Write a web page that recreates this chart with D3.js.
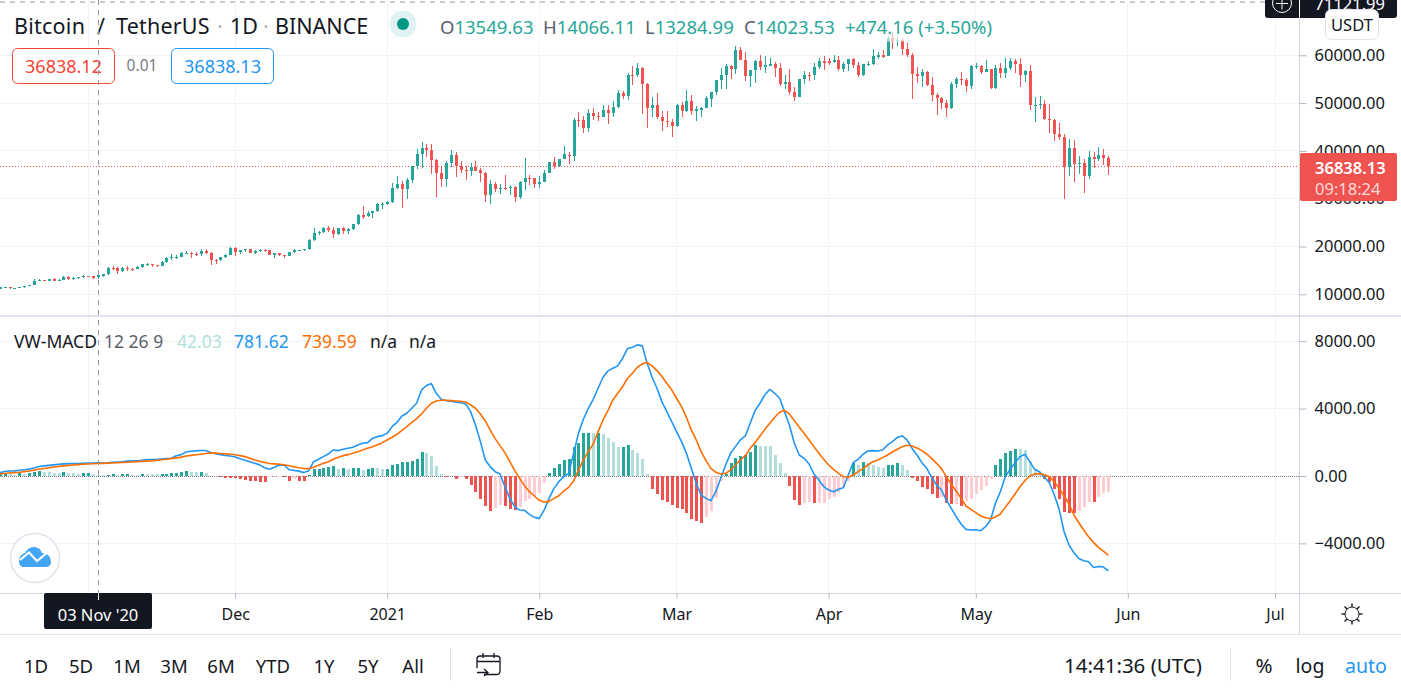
<!DOCTYPE html>
<html>
<head>
<meta charset="utf-8">
<title>Bitcoin / TetherUS 1D</title>
<style>
  body { margin: 0; background: #fff; overflow: hidden; }
  svg { display: block; }
  text { font-family: "Noto Sans", sans-serif; fill: #131722; }
  .axis path { display: none; }
  .axis line { stroke: #b2b5be; }
  .axis text { font-family: "Noto Sans", sans-serif; font-size: 16.5px; fill: #131722; }
</style>
</head>
<body>
<svg id="chart" width="1401" height="691"></svg>
<script src="https://d3js.org/d3.v7.min.js"></script>
<script>
// daily candles, 14 Oct 2020 to 28 May 2021
const firstDay = Date.UTC(2020, 9, 14);
const opens = [
  11425,11429,11495,11322,11358,11483,11742,11916,12823,12965,12931,13108,13031,13067,13636,13266,13455,13560,
  13803,13758,13549,14023,14144,15590,15579,14818,15475,15328,15297,15701,16276,16317,16069,15957,16713,17659,17776,17802,18655,18703,18414,18365,19104,18730,17149,17139,17719,18185,
  19695,18764,19204,19421,18650,19147,19359,19166,18324,18541,18254,18036,18808,19175,19273,19426,21335,22797,23107,23821,23455,22719,23810,23232,23729,24712,26493,26281,27079,27385,28875,
  28923,29331,32176,33000,31989,33949,36769,39432,40586,40088,38150,35410,34049,37371,39145,36737,35994,35824,36622,35901,35468,30851,33005,32064,32277,32245,32520,30400,33403,34295,34270,
  33092,33517,35472,37620,36936,38289,39246,38886,46469,46420,44807,47968,47298,47156,48580,47911,49133,52117,51552,55906,55841,57412,54087,48891,49676,47073,46276,46103,
  45134,49595,48436,50349,48374,48747,48882,50959,52375,54874,55851,57774,57221,61188,58976,55605,56900,58912,57641,58030,58100,57351,54083,54340,52303,51293,55025,55817,55777,57635,58739,
  58720,58720,58950,57051,58202,59130,57990,55950,58077,58142,59769,59964,59835,63575,62959,63159,61334,60006,56150,55633,56425,53787,51690,51110,50047,49004,54030,55036,54824,53555,
  57697,57797,56578,57169,53199,57436,56393,57315,58866,58240,55816,56670,49537,49671,49844,46762,46426,43538,42849,36671,40525,37253,37449,34655,38796,38324,39241,38530
];
const highs = [
  11550,11617,11540,11402,11490,11800,12045,13217,13185,13027,13145,13350,13250,13789,13859,13650,13699,14100,
  13895,13830,14066,14259,15750,15965,15765,15650,15840,15460,15965,16340,16480,16340,16180,16880,17858,18476,18179,18815,18965,18750,18766,19418,19484,18915,17457,17880,18360,19863,
  19888,19308,19564,19500,19180,19420,19420,19294,18639,18557,18292,18948,19411,19349,19570,21560,23800,23285,24171,24295,24102,23837,24100,23794,24789,26867,28422,27500,27410,29020,29300,
  29600,33300,34778,33600,34360,36939,40365,41950,41380,41350,38264,36628,37850,40100,39747,37950,36852,37405,37850,36415,35552,33826,33456,33071,34875,32921,32557,33783,38531,34934,34288,
  34717,35984,37662,38708,38310,40955,39700,46794,48200,47310,48678,48985,48150,49707,49700,50526,52640,52550,56368,57700,58352,57533,54183,51374,52041,48424,48300,46638,
  49790,50200,52640,51773,49448,49200,51450,52402,54900,57387,58150,58058,61844,61700,60633,56938,58981,60100,59880,59500,58600,58430,55830,57200,53287,55073,56640,56559,58405,59368,59800,
  59490,60036,59800,58500,59272,59470,58650,58153,58869,61300,60687,61200,64000,64854,63800,63520,62506,60499,57600,57100,56757,55410,52200,51200,50591,54356,55466,56428,55200,57963,
  58458,57950,58973,57200,57937,58360,59500,59500,59300,59500,56862,58000,51367,51560,50700,49795,46643,45808,43546,42451,42200,38856,38270,39920,39850,40900,40411,38879
];
const lows = [
  11270,11293,11200,11304,11335,11411,11680,11886,12720,12721,12885,12888,12779,13050,12888,12920,13125,13419,
  13620,13195,13284,13525,14093,15150,14344,14702,14805,14900,15280,15440,15952,15712,15670,15875,16560,17214,17335,17740,18400,17610,18000,18018,18500,16188,16438,16865,17517,18180,
  18001,18330,18922,18570,18500,18857,18902,18200,17650,17911,17572,18020,18711,19000,19050,19287,21230,22350,22750,23060,21815,22353,22600,22703,23433,24500,25700,26101,25880,27320,27850,
  28624,29000,31962,28130,29900,33288,36300,36500,38720,35111,30420,32531,32380,36701,34538,35357,33850,34850,35844,33400,29241,28850,31390,30900,31910,30837,29241,29842,31915,32825,32270,
  32296,33418,35362,36161,36570,38215,37351,37988,45000,43727,43994,46400,46202,47014,45570,47003,48946,50880,50710,53863,55477,47622,44892,47003,46700,44187,45000,43000,
  44950,47047,48100,47500,46300,47070,48882,49274,51789,53005,53025,55013,56078,58966,54600,53271,54123,56900,56270,57820,55450,53650,53000,51700,50427,51214,53966,54677,54900,57071,56873,
  57935,58450,56800,56450,56800,57300,55473,55700,57670,57872,59247,59369,59800,61301,62020,60000,59580,50931,54187,53329,53600,50500,47500,48738,47000,48754,53222,53813,52330,53013,
  57050,56035,56488,53000,52900,55200,55300,56900,56235,53400,54370,48600,46000,48856,46555,43825,42102,42250,30000,34850,33488,35200,31111,34031,36419,37800,37134,35000
];
const closes = [
  11429,11495,11322,11358,11483,11742,11916,12823,12965,12931,13108,13031,13067,13636,13266,13455,13560,13803,
  13758,13549,14023,14144,15590,15579,14818,15475,15328,15297,15701,16276,16317,16069,15957,16713,17659,17776,17802,18655,18703,18414,18365,19104,18730,17149,17139,17719,18185,19695,
  18764,19204,19421,18650,19147,19359,19166,18324,18541,18254,18036,18808,19175,19273,19426,21335,22797,23107,23821,23455,22719,23810,23232,23729,24712,26493,26281,27079,27385,28875,28923,
  29331,32178,33000,31988,33949,36769,39432,40582,40088,38150,35404,34051,37371,39144,36742,35994,35828,36631,35891,35468,30850,33005,32067,32277,32243,32541,30419,33403,34316,34269,33114,
  33526,35466,37618,36936,38290,39256,38903,46374,46420,44807,47969,47287,47153,48577,47911,49133,52119,51552,55906,55841,57408,54087,48891,49676,47073,46276,46106,45135,
  49587,48440,50349,48374,48751,48882,50971,52375,54884,55851,57773,57221,61188,58968,55605,56900,58912,57648,58030,58102,57351,54083,54340,52303,51293,55025,55817,55777,57635,58746,58720,
  58718,58950,57051,58202,59129,57991,55950,58077,58142,59769,59964,59834,63575,62959,63159,61334,60006,56150,55633,56425,53787,51690,51125,50047,49004,54021,55033,54824,53555,57697,
  57797,56578,57169,53200,57436,56393,57314,58862,58240,55816,56670,49631,49671,49841,46762,46431,43538,42849,36690,40526,37252,37449,34655,38796,38324,39241,38529,36838
];

// VW-MACD pane, same days
const macdLine = [
  200,270,295,305,340,375,410,480,560,600,630,660,690,720,735,745,745,755,770,775,782,770,785,815,830,840,885,895,900,930,970,980,990,1010,1035,1050,1200,1270,1420,1470,1490,1510,1510,1400,1320,1270,1220,1190,1130,1030,940,850,760,660,490,400,520,650,640,370,330,290,200,
  317,851,990,1148,1307,1544,1505,1584,1643,1703,1841,1940,1980,2237,2336,2396,2534,2930,3188,3564,3722,4019,4316,5108,5366,5485,4910,4554,4475,4435,4376,4356,4277,3821,3029,2039,950,554,257,119,-634,-1327,-1822,-2020,-2039,-2277,-2455,-2515,-2020,-1327,-733,-337,-40,158,1346,2534,
  3366,4019,4554,5207,5861,6237,6395,6534,6989,7564,7643,7781,7722,6692,5861,5207,4415,3821,3227,2633,2039,1346,455,-436,-1129,-1327,-1465,-931,-139,653,1346,1742,2138,2376,3128,3881,4316,4811,5148,4910,4613,3821,3029,1940,1247,1049,713,119,-238,-634,-832,-931,-792,-693,59,
  792,990,1287,1485,1505,1485,1544,1841,2039,2297,2376,2138,1643,1247,792,455,-79,-535,-832,-1426,-1921,-2416,-2851,-3168,-3208,-3188,-3247,-3010,-2614,-1624,-931,-40,396,792,1148,1287,851,396,257,-79,-396,-1129,-1980,-3307,-4099,-4554,-4891,-5029,-5089,-5425,-5366,-5405,-5623
];
const signalLine = [
  125,150,175,200,225,260,300,350,400,445,490,530,565,600,630,655,675,695,710,725,740,752,765,775,790,800,815,835,855,870,885,905,930,960,990,1030,1075,1120,1185,1225,1260,1295,1335,1360,1355,1335,1315,1290,1265,1210,1150,1050,950,870,800,745,720,700,670,610,550,490,445,
  436,515,634,752,851,990,1109,1208,1267,1346,1445,1544,1643,1742,1861,1980,2138,2297,2475,2713,2930,3188,3406,3683,4019,4316,4455,4495,4495,4475,4455,4435,4396,4217,4019,3683,3267,2732,2218,1802,1386,851,317,-139,-574,-931,-1188,-1445,-1544,-1505,-1327,-1168,-891,-673,-300,350,
  950,1445,1901,2633,3326,3881,4514,4910,5306,5801,6098,6455,6653,6732,6534,6257,5900,5504,5108,4613,4118,3485,2732,2138,1445,911,455,218,119,158,356,653,950,1208,1643,1980,2376,2772,3128,3485,3782,3901,3683,3287,2891,2534,2138,1742,1346,990,653,396,158,-40,-79,
  59,257,436,653,851,950,1089,1247,1426,1584,1742,1822,1782,1663,1505,1307,1049,752,436,-40,-495,-891,-1327,-1782,-1980,-2178,-2376,-2475,-2534,-2435,-2257,-1861,-1485,-1069,-634,-277,0,119,139,79,-40,-337,-733,-1188,-1663,-2317,-2772,-3208,-3604,-3940,-4237,-4455,-4693
];
const histogram = [
  90,110,90,75,150,110,170,250,290,230,220,200,190,240,200,160,140,170,180,130,42,30,60,90,60,100,120,80,60,140,120,100,95,120,140,160,200,260,300,260,250,265,160,-20,-10,-60,-100,-110,-120,-170,-240,-300,-320,-340,-380,-70,-55,-45,-65,-270,-190,-270,-277,
  60,396,436,495,554,594,436,455,436,446,456,356,436,495,475,436,440,634,713,812,832,871,1010,1426,1346,1188,594,99,-40,-20,-158,-79,-198,-554,-931,-1346,-1802,-2099,-1921,-1703,-1802,-1980,-2039,-1822,-1505,-1386,-1188,-1030,-396,198,475,733,950,990,1723,1980,
  2534,2545,2534,2574,2495,2257,2020,1723,1742,1841,1544,1366,1030,119,-752,-1049,-1406,-1525,-1742,-1881,-1980,-2218,-2534,-2673,-2812,-2416,-2079,-1287,-297,120,752,1049,1188,1228,1426,1822,1802,1792,1782,1228,752,178,-594,-1426,-1742,-1584,-1564,-1624,-1604,-1584,-1386,-1228,-950,-634,-297,
  752,653,832,752,653,535,475,653,663,792,653,337,-99,-277,-653,-752,-1049,-1287,-1267,-1584,-1663,-1643,-1782,-1485,-1346,-1049,-851,-594,-158,634,990,1346,1485,1624,1584,1564,891,356,99,-198,-356,-792,-1346,-2119,-2178,-2218,-2079,-1841,-1544,-1554,-1228,-1010,-931
];

const priceTicks = [10000, 20000, 30000, 40000, 50000, 60000];
const macdTicks = [-4000, 0, 4000, 8000];
// Nov has a tick and grid line, its label sits behind the crosshair date so it stays blank
const monthTicks = [
  [Date.UTC(2020, 10, 1), ''], [Date.UTC(2020, 11, 1), 'Dec'], [Date.UTC(2021, 0, 1), '2021'],
  [Date.UTC(2021, 1, 1), 'Feb'], [Date.UTC(2021, 2, 1), 'Mar'], [Date.UTC(2021, 3, 1), 'Apr'],
  [Date.UTC(2021, 4, 1), 'May'], [Date.UTC(2021, 5, 1), 'Jun'], [Date.UTC(2021, 6, 1), 'Jul']
];
const lastPrice = 36838.13;
const rangeButtons = ['1D', '5D', '1M', '3M', '6M', 'YTD', '1Y', '5Y', 'All'];
const rangeButtonX = [36, 81, 127, 174, 221, 273, 324, 368, 413];

const UP = '#26a69a', DOWN = '#ef5350', UP_LIGHT = '#b2dfdb', DOWN_LIGHT = '#ffcdd2';
const GRID = '#f0f3fa', BORDER = '#d1d4dc', CROSS = '#9598a1';
const chartW = 1299.5;

const days = opens.map((d, i) => d3.utcDay.offset(new Date(firstDay), i));
const svg = d3.select('#chart');

const x = d3.scaleUtc()
  .domain([new Date(Date.UTC(2020, 10, 1)), new Date(Date.UTC(2021, 6, 1))])
  .range([88, 1275]);
const yPrice = d3.scaleLinear().domain([10000, 60000]).range([294.3, 55.3]);
const yMacd = d3.scaleLinear().domain([-4000, 8000]).range([543.4, 341.2]);

svg.append('clipPath').attr('id', 'plot').append('rect')
  .attr('x', 0).attr('y', 0).attr('width', chartW).attr('height', 594);

function label(parent, px, py, str, color, size, anchor) {
  return parent.append('text')
    .attr('x', px).attr('y', py)
    .attr('dominant-baseline', 'central')
    .attr('text-anchor', anchor || 'start')
    .style('font-size', (size || 16.5) + 'px')
    .style('fill', color || '#131722')
    .text(str);
}

// grid
const grid = svg.append('g').attr('stroke', GRID).attr('stroke-width', 1).attr('shape-rendering', 'crispEdges');
grid.selectAll('.gv').data(monthTicks).join('line')
  .attr('x1', d => x(d[0])).attr('x2', d => x(d[0])).attr('y1', 0).attr('y2', 594);
grid.selectAll('.gp').data(priceTicks).join('line')
  .attr('x1', 0).attr('x2', chartW).attr('y1', d => yPrice(d)).attr('y2', d => yPrice(d));
grid.selectAll('.gm').data(macdTicks.filter(d => d !== 0)).join('line')
  .attr('x1', 0).attr('x2', chartW).attr('y1', d => yMacd(d)).attr('y2', d => yMacd(d));

const plot = svg.append('g').attr('clip-path', 'url(#plot)');

// last price line
plot.append('line')
  .attr('x1', 0).attr('x2', chartW)
  .attr('y1', Math.round(yPrice(lastPrice)) + 0.5).attr('y2', Math.round(yPrice(lastPrice)) + 0.5)
  .attr('stroke', DOWN).attr('stroke-dasharray', '1 2').attr('shape-rendering', 'crispEdges');

// candles
const candle = plot.append('g').selectAll('g').data(days).join('g')
  .attr('fill', (d, i) => closes[i] >= opens[i] ? UP : DOWN)
  .attr('stroke', (d, i) => closes[i] >= opens[i] ? UP : DOWN)
  .attr('shape-rendering', 'crispEdges');
candle.append('line')
  .attr('x1', d => Math.round(x(d)) + 0.5).attr('x2', d => Math.round(x(d)) + 0.5)
  .attr('y1', (d, i) => yPrice(highs[i])).attr('y2', (d, i) => yPrice(lows[i]));
candle.append('rect')
  .attr('stroke', 'none')
  .attr('x', d => Math.round(x(d)) - 1)
  .attr('width', 3)
  .attr('y', (d, i) => yPrice(Math.max(opens[i], closes[i])))
  .attr('height', (d, i) => Math.max(1.2, Math.abs(yPrice(opens[i]) - yPrice(closes[i]))));

// zero line of the lower pane
plot.append('line')
  .attr('x1', 0).attr('x2', chartW)
  .attr('y1', Math.round(yMacd(0)) + 0.5).attr('y2', Math.round(yMacd(0)) + 0.5)
  .attr('stroke', '#787b86').attr('stroke-dasharray', '1 1').attr('shape-rendering', 'crispEdges');

// histogram
function histColor(i) {
  const rising = i > 0 ? histogram[i] > histogram[i - 1] : true;
  if (histogram[i] >= 0) return rising ? UP : UP_LIGHT;
  return rising ? DOWN_LIGHT : DOWN;
}
plot.append('g').selectAll('rect').data(days).join('rect')
  .attr('shape-rendering', 'crispEdges')
  .attr('x', d => Math.round(x(d)) - 1)
  .attr('width', 3)
  .attr('y', (d, i) => Math.min(yMacd(0), yMacd(histogram[i])))
  .attr('height', (d, i) => Math.abs(yMacd(0) - yMacd(histogram[i])))
  .attr('fill', (d, i) => histColor(i));

// macd + signal
const macdPath = d3.line().x(d => x(d[0])).y(d => yMacd(d[1]));
[[macdLine, '#2196f3'], [signalLine, '#ff6d00']].forEach(([values, color]) => {
  plot.append('path')
    .datum(days.map((d, i) => [d, values[i]]))
    .attr('fill', 'none').attr('stroke', color).attr('stroke-width', 1.6)
    .attr('stroke-linejoin', 'round')
    .attr('d', macdPath);
});

// pane dividers and axis borders
svg.append('rect').attr('x', 0).attr('y', 315).attr('width', 1401).attr('height', 2).attr('fill', '#e0e3eb');
svg.append('line').attr('x1', 0).attr('x2', 1401).attr('y1', 593.5).attr('y2', 593.5).attr('stroke', BORDER);
svg.append('line').attr('x1', 1299.5).attr('x2', 1299.5).attr('y1', 0).attr('y2', 634).attr('stroke', BORDER);

// axes
svg.append('g').attr('class', 'axis').attr('transform', `translate(${chartW},0)`)
  .call(d3.axisRight(yPrice).tickValues(priceTicks).tickSize(7).tickPadding(8).tickFormat(d => d3.format('.2f')(d)));
svg.append('g').attr('class', 'axis').attr('transform', `translate(${chartW},0)`)
  .call(d3.axisRight(yMacd).tickValues(macdTicks).tickSize(7).tickPadding(8)
    .tickFormat(d => (d < 0 ? '\u2212' : '') + d3.format('.2f')(Math.abs(d))));
const timeAxis = svg.append('g').attr('class', 'axis').attr('transform', 'translate(0,593.5)')
  .call(d3.axisBottom(x).tickValues(monthTicks.map(d => new Date(d[0]))).tickSize(5).tickPadding(10)
    .tickFormat((d, i) => monthTicks[i][1]));
timeAxis.selectAll('text').style('font-size', '16px');

// header legend, half see through over the candles
svg.append('rect').attr('x', 430).attr('y', 12).attr('width', 570).attr('height', 29.5)
  .attr('fill', '#fff').attr('fill-opacity', 0.65);
label(svg, 14, 25, 'Bitcoin', '#131722', 21.5).style('letter-spacing', '0.25px');
label(svg, 97, 25, '/', '#131722', 21.5);
label(svg, 116, 25, 'TetherUS', '#131722', 21.5).style('letter-spacing', '0.2px');
label(svg, 217, 25, '\u00b7', '#b2b5be', 21.5);
label(svg, 230, 25, '1D', '#131722', 21.5);
label(svg, 263, 25, '\u00b7', '#b2b5be', 21.5);
label(svg, 275, 25, 'BINANCE', '#131722', 21.5);
svg.append('circle').attr('cx', 403).attr('cy', 24).attr('r', 13.5).attr('fill', '#e0f2f1');
svg.append('circle').attr('cx', 403).attr('cy', 24).attr('r', 6).attr('fill', '#009688');

const ohlc = [['O', '13549.63', 440], ['H', '14066.11', 543], ['L', '13284.99', 645], ['C', '14023.53', 744]];
ohlc.forEach(([k, v, px]) => {
  const t = label(svg, px, 26, k, '#5d606b', 18.5);
  t.append('tspan').style('fill', UP).text(v);
});
label(svg, 845, 26, '+474.16 (+3.50%)', UP, 18.5);

// bid / ask boxes
svg.append('rect').attr('x', 12.5).attr('y', 48.5).attr('width', 102).attr('height', 35).attr('rx', 5)
  .attr('fill', '#fff').attr('stroke', '#f44336');
label(svg, 63.5, 66, '36838.12', '#f44336', 18, 'middle');
label(svg, 142, 65, '0.01', '#787b86', 15.5, 'middle');
svg.append('rect').attr('x', 171.5).attr('y', 48.5).attr('width', 102).attr('height', 35).attr('rx', 5)
  .attr('fill', '#fff').attr('stroke', '#2196f3');
label(svg, 222.5, 66, '36838.13', '#2196f3', 18, 'middle');

// VW-MACD legend
label(svg, 14, 341, 'VW-MACD', '#131722', 17.5);
label(svg, 104, 341, '12 26 9', '#5d606b', 17.5);
label(svg, 177, 341, '42.03', UP_LIGHT, 17.5);
label(svg, 234, 341, '781.62', '#2196f3', 17.5);
label(svg, 302, 341, '739.59', '#ff6d00', 17.5);
label(svg, 370, 341, 'n/a', '#131722', 17.5);
label(svg, 409, 341, 'n/a', '#131722', 17.5);

// logo
svg.append('circle').attr('cx', 35).attr('cy', 558).attr('r', 24.5).attr('fill', '#fff').attr('stroke', '#e0e3eb').attr('stroke-width', 1.5);
svg.append('path')
  .attr('d', 'M19,561 q0,-6 6,-8 q3,-6 9,-6 q6,0 8,6 q9,1 9,9 q0,5 -6,5 h-21 q-5,0 -5,-6z')
  .attr('fill', '#42a5f5');
svg.append('polyline')
  .attr('points', '20,560 29,552.5 37,561 45.5,554')
  .attr('fill', 'none').attr('stroke', '#fff').attr('stroke-width', 2.2);

// crosshair
svg.append('line').attr('x1', 98.5).attr('x2', 98.5).attr('y1', 0).attr('y2', 594)
  .attr('stroke', CROSS).attr('stroke-dasharray', '5 5');
svg.append('line').attr('x1', 0).attr('x2', 1266).attr('y1', 2).attr('y2', 2)
  .attr('stroke', CROSS).attr('stroke-dasharray', '5 5');

// crosshair labels
svg.append('rect').attr('x', 44).attr('y', 593).attr('width', 108).attr('height', 36).attr('rx', 2).attr('fill', '#131722');
svg.append('line').attr('x1', 98.5).attr('x2', 98.5).attr('y1', 593).attr('y2', 600).attr('stroke', '#fff');
label(svg, 98, 614.5, "03 Nov '20", '#fff', 16.5, 'middle');
svg.append('rect').attr('x', 1265).attr('y', -6).attr('width', 132).attr('height', 24).attr('rx', 3).attr('fill', '#131722');
svg.append('line').attr('x1', 1299.5).attr('x2', 1299.5).attr('y1', 0).attr('y2', 18).attr('stroke', '#fff');
svg.append('circle').attr('cx', 1282).attr('cy', 3).attr('r', 9.5).attr('fill', 'none').attr('stroke', '#fff');
svg.append('path').attr('d', 'M1276,3.5H1288M1282,-3V9.5').attr('stroke', '#fff');
label(svg, 1314.5, 3, '71121.99', '#fff', 16.5);

// unit button
svg.append('rect').attr('x', 1325.5).attr('y', 9.5).attr('width', 53).attr('height', 30).attr('rx', 6)
  .attr('fill', '#fff').attr('stroke', '#e0e3eb');
label(svg, 1352, 24, 'USDT', '#131722', 16.5, 'middle');

// last price tag
svg.append('rect').attr('x', 1300).attr('y', 153).attr('width', 97).attr('height', 48).attr('rx', 2).attr('fill', DOWN);
label(svg, 1315, 167, '36838.13', '#fff', 16.5).style('font-weight', 600);
label(svg, 1315, 188, '09:18:24', '#ffd9d7', 16.5);

// settings icon
const gear = svg.append('g').attr('transform', 'translate(1352,614)').attr('stroke', '#131722').attr('fill', 'none');
gear.append('circle').attr('r', 7);
d3.range(8).forEach(k => {
  const a = k * Math.PI / 4;
  gear.append('line')
    .attr('x1', 7 * Math.cos(a)).attr('y1', 7 * Math.sin(a))
    .attr('x2', 10.5 * Math.cos(a)).attr('y2', 10.5 * Math.sin(a))
    .attr('stroke-width', 1.4);
});

// bottom bar
svg.append('line').attr('x1', 0).attr('x2', 1401).attr('y1', 634.5).attr('y2', 634.5).attr('stroke', '#e0e3eb');
rangeButtons.forEach((b, i) => label(svg, rangeButtonX[i], 665, b, '#131722', 18.5, 'middle'));
svg.append('line').attr('x1', 450.5).attr('x2', 450.5).attr('y1', 648).attr('y2', 681).attr('stroke', '#e0e3eb');
svg.append('path')
  .attr('d', 'M484,674.5H496.5Q500,674.5 500,671V659Q500,656 497,656H480Q477,656 477,659V668M477,661.5H500M483,653V658M494,653V658M477,672.5H487M484,669L488,672.5L484,676')
  .attr('fill', 'none').attr('stroke', '#131722').attr('stroke-width', 1.3);
label(svg, 1064, 665, '14:41:36 (UTC)', '#131722', 20.5);
svg.append('line').attr('x1', 1230.5).attr('x2', 1230.5).attr('y1', 648).attr('y2', 681).attr('stroke', '#e0e3eb');
label(svg, 1264, 665, '%', '#131722', 20.5, 'middle');
label(svg, 1310, 665, 'log', '#131722', 19.5, 'middle');
label(svg, 1366, 665, 'auto', '#2196f3', 19.5, 'middle');
</script>
</body>
</html>
